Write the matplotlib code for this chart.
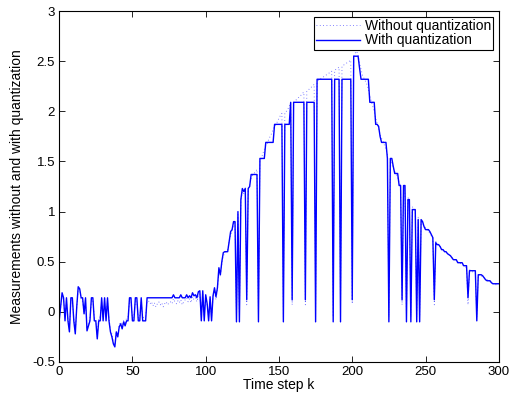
# measurements with and without quantization

import numpy as np
import matplotlib
matplotlib.use('Agg')
import matplotlib.pyplot as plt

plt.rcParams['font.family'] = ['Liberation Sans', 'DejaVu Sans']
plt.rcParams['font.size'] = 10

# measurement without quantization, k = 0..300
without_q = [
    -0.06, 0.04, 0.17, 0.12, -0.05, 0.10, -0.06, -0.17, 0.10, 0.12,
    -0.06, -0.20, 0.04, 0.23, 0.22, 0.12, 0.10, -0.02, 0.10, -0.17,
    -0.12, -0.06, 0.10, 0.12, -0.06, -0.07, -0.25, -0.06, -0.05, 0.10,
    -0.06, 0.10, -0.05, 0.10, -0.06, -0.18, -0.22, -0.30, -0.33, -0.20,
    -0.23, -0.13, -0.10, -0.15, -0.08, -0.12, -0.06, -0.05, 0.10, 0.10,
    -0.06, -0.05, 0.10, 0.10, -0.06, -0.05, 0.10, -0.05, -0.06, -0.05,
    0.10, 0.11, 0.08, 0.10, 0.06, 0.09, 0.05, 0.08, 0.10, 0.07,
    0.09, 0.05, 0.08, 0.10, 0.07, 0.09, 0.10, 0.08, 0.13, 0.10,
    0.08, 0.11, 0.09, 0.12, 0.07, 0.10, 0.12, 0.14, 0.10, 0.13,
    0.09, 0.15, 0.12, 0.14, 0.10, 0.16, 0.18, -0.05, 0.18, -0.05,
    0.15, 0.07, -0.05, 0.13, -0.05, 0.14, 0.21, 0.12, 0.22, 0.40,
    0.35, 0.48, 0.56, 0.58, 0.60, 0.62, 0.70, 0.77, 0.80, 0.87,
    0.90, -0.05, 0.97, -0.05, 1.10, 1.20, 1.18, 1.24, 0.07, 1.22,
    1.27, 1.33, 1.36, 1.38, 1.40, 1.42, -0.05, 1.50, 1.53, 1.58,
    1.62, 1.66, 1.68, 1.72, 1.75, 1.78, 1.82, 1.85, 1.87, 1.90,
    1.93, 1.96, 1.98, -0.05, 1.99, 2.00, 2.02, 2.05, 2.08, 0.07,
    2.09, 2.10, 2.12, 2.13, 2.15, 2.16, 2.18, 2.19, 0.07, 2.20,
    2.21, 2.23, 2.24, 2.25, 2.27, -0.05, 2.30, 2.31, 2.32, 2.33,
    2.34, 2.35, 2.36, 2.37, 2.38, 2.39, 2.40, -0.05, 2.41, 2.42,
    2.43, 2.44, -0.05, 2.45, 2.46, 2.47, 2.48, 2.49, 2.50, 2.51,
    0.08, 2.55, 2.58, 2.60, 2.56, 2.48, 2.42, 2.36, 2.33, 2.30,
    2.27, 2.22, 2.15, 2.10, 2.05, 2.00, 1.93, 1.88, 1.83, 1.77,
    1.73, 1.70, 1.66, 1.62, 1.57, -0.05, 1.52, 1.47, 1.43, 1.40,
    1.37, 1.34, 1.29, 1.26, 0.07, 1.22, 1.19, -0.05, 1.14, 1.11,
    -0.05, 1.05, 1.02, 1.00, -0.05, 0.95, -0.05, 0.90, 0.88, 0.86,
    0.84, 0.82, 0.80, 0.78, 0.76, 0.74, 0.07, 0.70, 0.68, 0.67,
    0.65, 0.63, 0.62, 0.60, 0.59, 0.58, 0.57, 0.56, 0.54, 0.53,
    0.52, 0.51, 0.50, 0.49, 0.48, 0.47, 0.46, 0.45, 0.44, 0.07,
    0.42, 0.41, 0.40, 0.39, 0.39, -0.05, 0.37, 0.36, 0.36, 0.35,
    0.34, 0.33, 0.32, 0.31, 0.30, 0.29, 0.28, 0.28, 0.27, 0.27, 0.27,
]

# measurement with quantization, k = 0..300
with_q = [
    -0.09, 0.05, 0.19, 0.14, -0.09, 0.14, -0.09, -0.20, 0.14, 0.14,
    -0.09, -0.22, 0.05, 0.25, 0.23, 0.14, 0.14, -0.02, 0.14, -0.19,
    -0.14, -0.09, 0.14, 0.14, -0.09, -0.09, -0.27, -0.09, -0.09, 0.14,
    -0.09, 0.14, -0.09, 0.14, -0.09, -0.20, -0.25, -0.32, -0.35, -0.20,
    -0.25, -0.15, -0.12, -0.17, -0.10, -0.14, -0.09, -0.09, 0.14, 0.14,
    -0.09, -0.09, 0.14, 0.14, -0.09, -0.09, 0.14, -0.09, -0.09, -0.09,
    0.14, 0.14, 0.14, 0.14, 0.14, 0.14, 0.14, 0.14, 0.14, 0.14,
    0.14, 0.14, 0.14, 0.14, 0.14, 0.14, 0.14, 0.14, 0.17, 0.14,
    0.14, 0.14, 0.14, 0.17, 0.14, 0.14, 0.14, 0.17, 0.14, 0.16,
    0.14, 0.19, 0.16, 0.17, 0.14, 0.20, 0.21, -0.09, 0.21, -0.09,
    0.17, 0.08, -0.09, 0.15, -0.09, 0.16, 0.24, 0.15, 0.24, 0.44,
    0.37, 0.50, 0.59, 0.60, 0.60, 0.60, 0.70, 0.80, 0.82, 0.90,
    0.90, -0.10, 1.00, -0.10, 1.12, 1.23, 1.20, 1.23, 0.12, 1.23,
    1.25, 1.37, 1.37, 1.37, 1.37, 1.37, -0.10, 1.53, 1.53, 1.53,
    1.53, 1.69, 1.69, 1.69, 1.69, 1.69, 1.69, 1.87, 1.87, 1.87,
    1.87, 1.87, 1.87, -0.10, 1.87, 1.87, 1.87, 1.87, 2.09, 0.12,
    2.09, 2.09, 2.09, 2.09, 2.09, 2.09, 2.09, 2.09, 0.12, 2.09,
    2.09, 2.09, 2.09, 2.09, 2.09, -0.10, 2.32, 2.32, 2.32, 2.32,
    2.32, 2.32, 2.32, 2.32, 2.32, 2.32, 2.32, -0.10, 2.32, 2.32,
    2.32, 2.32, -0.10, 2.32, 2.32, 2.32, 2.32, 2.32, 2.32, 2.32,
    0.12, 2.55, 2.55, 2.55, 2.55, 2.43, 2.32, 2.32, 2.32, 2.32,
    2.32, 2.32, 2.09, 2.09, 2.09, 2.09, 1.87, 1.87, 1.85, 1.75,
    1.69, 1.69, 1.69, 1.69, 1.53, -0.10, 1.53, 1.53, 1.45, 1.38,
    1.38, 1.38, 1.26, 1.26, 0.12, 1.26, 1.26, -0.10, 1.12, 1.12,
    -0.10, 1.02, 1.02, 1.02, -0.10, 0.92, -0.10, 0.92, 0.90, 0.85,
    0.82, 0.82, 0.82, 0.80, 0.77, 0.74, 0.12, 0.69, 0.67, 0.67,
    0.65, 0.62, 0.62, 0.60, 0.60, 0.58, 0.57, 0.56, 0.54, 0.52,
    0.52, 0.52, 0.49, 0.49, 0.49, 0.49, 0.46, 0.46, 0.46, 0.14,
    0.41, 0.41, 0.41, 0.41, 0.41, -0.09, 0.37, 0.37, 0.37, 0.36,
    0.34, 0.32, 0.31, 0.31, 0.31, 0.29, 0.28, 0.28, 0.28, 0.28, 0.28,
]

k = np.arange(len(with_q))

fig = plt.figure(figsize=(5.1, 3.96), dpi=100)
ax = fig.add_axes([0.116, 0.086, 0.862, 0.886])

ax.plot(k, without_q, color='#3030ff', lw=0.6, ls=(0, (1, 3)), alpha=0.8,
        label='Without quantization')
ax.plot(k, with_q, '-', color='#0000ff', lw=1.0, label='With quantization')

ax.set_xlim(0, 300)
ax.set_ylim(-0.5, 3)
ax.set_xticks([0, 50, 100, 150, 200, 250, 300])
ax.set_yticks([-0.5, 0, 0.5, 1, 1.5, 2, 2.5, 3])
ax.set_yticklabels(['-0.5', '0', '0.5', '1', '1.5', '2', '2.5', '3'])
ax.tick_params(direction='in', top=True, right=True, length=4, width=0.6,
               pad=3, labelsize=9.5)
for s in ax.spines.values():
    s.set_linewidth(0.8)

ax.set_xlabel('Time step k', labelpad=0)
ax.set_ylabel('Measurements without and with quantization', labelpad=6)

leg = ax.legend(loc='upper right', fancybox=False, framealpha=1, edgecolor='black',
                borderpad=0.15, labelspacing=0.05, handlelength=3.2,
                handletextpad=0.35, borderaxespad=0.4, fontsize=10)
leg.get_frame().set_linewidth(0.8)

fig.savefig('out.png', dpi=100)
